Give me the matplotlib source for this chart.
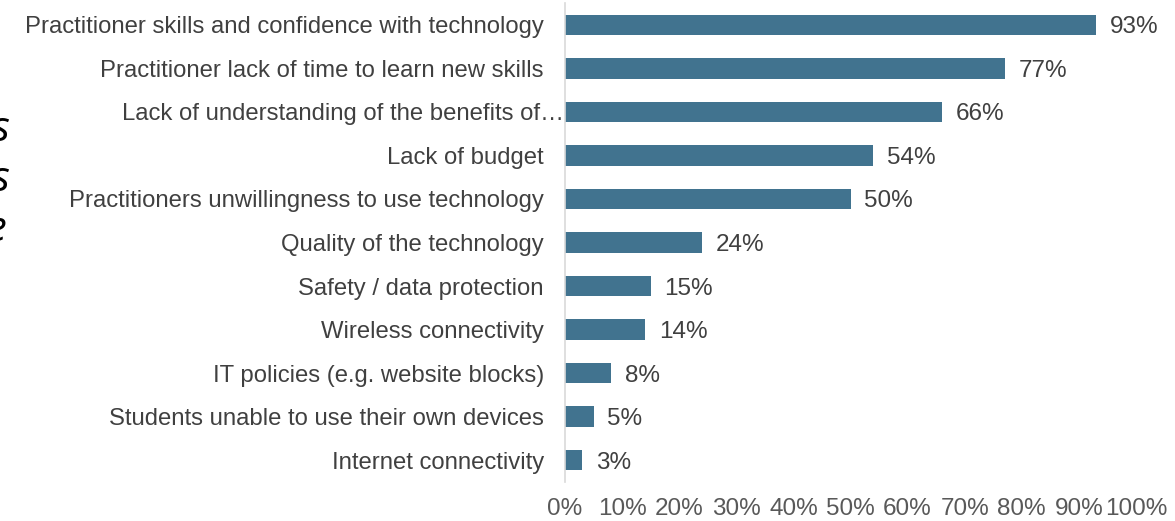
import matplotlib.pyplot as plt
from matplotlib.ticker import FuncFormatter

plt.rcParams["font.family"] = ["Liberation Sans", "DejaVu Sans"]

# Barriers to using technology, share of respondents (%)
categories = [
    "Practitioner skills and confidence with technology",
    "Practitioner lack of time to learn new skills",
    "Lack of understanding of the benefits of\u2026",
    "Lack of budget",
    "Practitioners unwillingness to use technology",
    "Quality of the technology",
    "Safety / data protection",
    "Wireless connectivity",
    "IT policies (e.g. website blocks)",
    "Students unable to use their own devices",
    "Internet connectivity",
]
values = [93, 77, 66, 54, 50, 24, 15, 14, 8, 5, 3]
x_ticks = [0, 10, 20, 30, 40, 50, 60, 70, 80, 90, 100]

BAR_COLOR = "#41738f"
TEXT_COLOR = "#404040"
TICK_COLOR = "#595959"

fig = plt.figure(figsize=(11.75, 5.21), dpi=100)
ax = fig.add_axes([0.4809, 0.0753, 0.4859, 0.9185])

ypos = list(range(len(categories)))
ax.barh(ypos, values, height=0.48, color=BAR_COLOR)
ax.set_ylim(len(categories) - 0.5, -0.5)
ax.set_xlim(0, 100)

for y, v in zip(ypos, values):
    ax.annotate(f"{v}%", (v, y), xytext=(10, 0), textcoords="offset points",
                va="center_baseline", ha="left", fontsize=17.5, color=TEXT_COLOR)

# category labels drawn by hand so the truncated one can sit closer to the axis
ax.set_yticks([])
for y, label in zip(ypos, categories):
    pad = -0.002 if label.endswith("\u2026") else -0.037
    ax.text(pad, y, label, transform=ax.get_yaxis_transform(), ha="right",
            va="center_baseline", fontsize=17.2, color=TEXT_COLOR)

ax.set_xticks(x_ticks)
ax.xaxis.set_major_formatter(FuncFormatter(lambda v, _: f"{v:.0f}%"))
ax.tick_params(axis="x", length=0, pad=12, labelsize=17.5, labelcolor=TICK_COLOR)

for side in ["top", "right", "bottom"]:
    ax.spines[side].set_visible(False)
ax.spines["left"].set_color("#d9d9d9")
ax.spines["left"].set_linewidth(1.2)

# clipped words from the neighbouring text block on the left edge
for yf, ch, xf in [(0.750, "s", 0.0085), (0.654, "s", 0.0085), (0.558, "e", 0.006)]:
    fig.text(xf, yf, ch, ha="right", va="center", fontsize=30, style="italic",
             family="Open Sans", color="black")

fig.savefig("out.png", dpi=100)
